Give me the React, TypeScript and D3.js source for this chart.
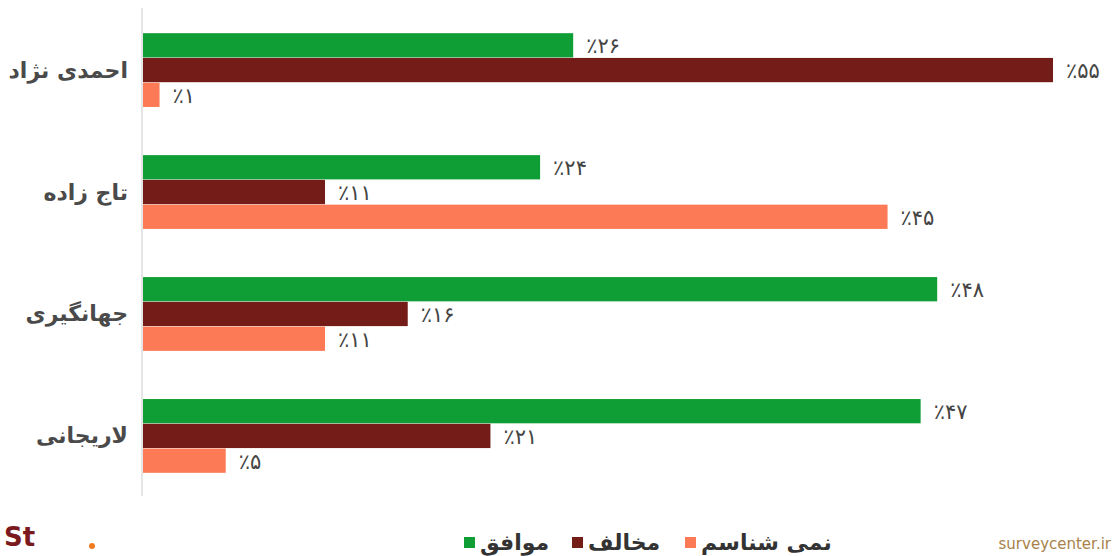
import * as d3 from "d3";

const candidates = ["احمدی نژاد", "تاج زاده", "جهانگیری", "لاریجانی"];
const seriesKeys = ["agree", "disagree", "dontKnow"];
const seriesNames = ["موافق", "مخالف", "نمی شناسم"];
const seriesColors = ["#0f9d35", "#741d18", "#fc7a55"];
const agree = [26, 24, 48, 47];
const disagree = [55, 11, 16, 21];
const dontKnow = [1, 45, 11, 5];

const W = 1113;
const H = 556;

const faDigits = (n: number) =>
  String(n).replace(/\d/g, (c) => "۰۱۲۳۴۵۶۷۸۹"[+c]);

export default function App() {
  const values = [agree, disagree, dontKnow];

  const x = d3.scaleLinear().domain([0, 55]).range([143, 1053]);
  const y0 = d3
    .scaleBand<string>()
    .domain(candidates)
    .range([10, 496])
    .paddingInner(0.395)
    .paddingOuter(0.19);
  const y1 = d3
    .scaleBand<string>()
    .domain(seriesKeys)
    .range([0, y0.bandwidth()])
    .paddingInner(0.02);

  const legendItems = [
    { i: 0, x: 464 },
    { i: 1, x: 572 },
    { i: 2, x: 685 },
  ];

  return (
    <svg
      width={W}
      height={H}
      style={{ position: "absolute", left: 0, top: 0, background: "#fff" }}
      fontFamily="'DejaVu Sans', sans-serif"
    >
      {/* axis line */}
      <line x1={142} x2={142} y1={8} y2={496} stroke="#dcdcdc" strokeWidth={1.5} />

      {candidates.map((c, ci) => {
        const gy = y0(c)!;
        return (
          <g key={c}>
            <text
              x={128}
              y={gy + y0.bandwidth() / 2}
              textAnchor="end"
              dominantBaseline="central"
              fontSize={22}
              fontWeight="bold"
              fill="#4a4a4a"
            >
              {c}
            </text>
            {seriesKeys.map((k, si) => {
              const v = values[si][ci];
              const by = gy + y1(k)!;
              return (
                <g key={k}>
                  <rect
                    x={x(0)}
                    y={by}
                    width={x(v) - x(0)}
                    height={y1.bandwidth()}
                    fill={seriesColors[si]}
                  />
                  <text
                    x={x(v) + 13}
                    y={by + y1.bandwidth() / 2 + 1}
                    dominantBaseline="central"
                    fontSize={21}
                    letterSpacing={3}
                    fill="#444"
                  >
                    {"٪" + faDigits(v)}
                  </text>
                </g>
              );
            })}
          </g>
        );
      })}

      {/* legend */}
      {legendItems.map(({ i, x: lx }) => (
        <g key={i}>
          <rect x={lx} y={537} width={11} height={11} fill={seriesColors[i]} />
          <text
            x={lx + 16}
            y={542}
            dominantBaseline="central"
            fontSize={22}
            fontWeight="bold"
            fill="#333"
          >
            {seriesNames[i]}
          </text>
        </g>
      ))}

      {/* partial logo bottom-left */}
      <text x={4} y={546} fontSize={26} fontWeight="bold" fill="#7a1a1e">
        St
      </text>
      <circle cx={92} cy={546} r={3} fill="#f07a20" />

      {/* watermark bottom-right */}
      <text x={1111} y={549} textAnchor="end" fontSize={15} fill="#a8824a">
        surveycenter.ir
      </text>
    </svg>
  );
}
